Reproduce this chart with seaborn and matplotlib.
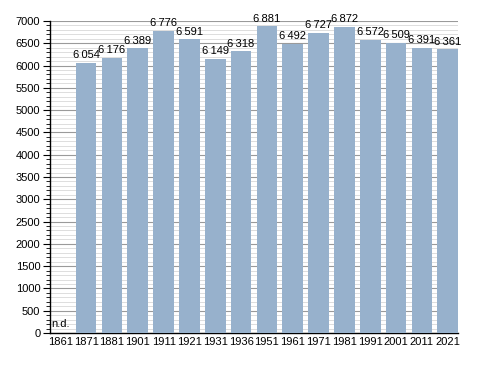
import matplotlib
matplotlib.use("Agg")
import matplotlib.pyplot as plt
import seaborn as sns
import pandas as pd
from matplotlib.ticker import MultipleLocator

years = ["1861", "1871", "1881", "1901", "1911", "1921", "1931", "1936",
         "1951", "1961", "1971", "1981", "1991", "2001", "2011", "2021"]
population = [0, 6054, 6176, 6389, 6776, 6591, 6149, 6318,
              6881, 6492, 6727, 6872, 6572, 6509, 6391, 6361]
labels = ["n.d.", "6\u2009054", "6\u2009176", "6\u2009389", "6\u2009776", "6\u2009591",
          "6\u2009149", "6\u2009318", "6\u2009881", "6\u2009492", "6\u2009727",
          "6\u2009872", "6\u2009572", "6\u2009509", "6\u2009391", "6\u2009361"]

df = pd.DataFrame({"year": years, "pop": population})

sns.set_theme(style="white")
plt.rcParams["font.family"] = ["Liberation Sans", "DejaVu Sans"]
plt.rcParams["text.color"] = "black"
plt.rcParams["xtick.color"] = "black"
plt.rcParams["ytick.color"] = "black"

fig = plt.figure(figsize=(4.88, 3.73), dpi=100)
ax = fig.add_axes([50 / 488, 40 / 373, 408 / 488, 312 / 373])

sns.barplot(data=df, x="year", y="pop", color="#97b1cc", saturation=1,
            width=0.8, ax=ax, zorder=3, linewidth=0, edgecolor="none")

ax.set_ylim(0, 7000)
ax.set_xlim(-0.4, 15.4)
ax.yaxis.set_major_locator(MultipleLocator(500))
ax.yaxis.set_minor_locator(MultipleLocator(100))
ax.grid(which="major", axis="y", color="#9a9a9a", linewidth=0.8, zorder=0)
ax.grid(which="minor", axis="y", color="#d8d8d8", linewidth=0.6, zorder=0)
ax.set_axisbelow(True)

for s in ["top", "right"]:
    ax.spines[s].set_visible(False)
for s in ["left", "bottom"]:
    ax.spines[s].set_color("black")
    ax.spines[s].set_linewidth(1.0)

ax.tick_params(axis="y", which="major", direction="out", length=5, width=0.8,
               color="black", labelsize=8, pad=2, left=True, labelcolor="black")
ax.tick_params(axis="y", which="minor", direction="out", length=3, width=0.6,
               color="black", left=True)
ax.tick_params(axis="x", length=0, labelsize=8, pad=3, labelcolor="black")
ax.set_xlabel("")
ax.set_ylabel("")

for i, (v, lab) in enumerate(zip(population, labels)):
    if v == 0:
        ax.text(i - 0.36, 80, lab, ha="left", va="bottom", fontsize=8,
                color="black", zorder=5)
    else:
        ax.text(i, v + 60, lab, ha="center", va="bottom", fontsize=8,
                color="black", zorder=5)

fig.savefig("out.png", dpi=100)
